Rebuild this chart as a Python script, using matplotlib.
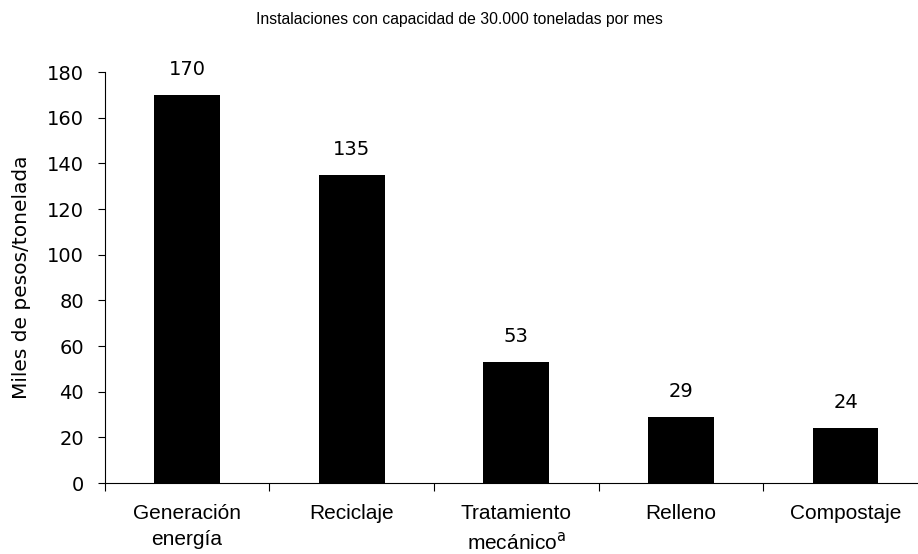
import matplotlib
matplotlib.use("Agg")
import matplotlib.pyplot as plt
import numpy as np

categories = ["Generación\nenergía", "Reciclaje", "Tratamiento\nmecánico$^{\\mathrm{a}}$", "Relleno", "Compostaje"]
values = [170, 135, 53, 29, 24]
yticks = [0, 20, 40, 60, 80, 100, 120, 140, 160, 180]

plt.rcParams["font.family"] = ["Liberation Sans", "DejaVu Sans"]

fig = plt.figure(figsize=(9.18, 5.54), dpi=100)
ax = fig.add_axes([0.114, 0.128, 0.886, 0.742])

x = np.arange(len(categories))
ax.bar(x, values, width=0.40, color="black")

# value labels above the bars
for xi, v in zip(x, values):
    ax.text(xi, v + 7, str(v), ha="center", va="bottom", fontsize=14,
            family="DejaVu Sans")

ax.set_xlim(-0.5, 4.44)
ax.set_ylim(0, 180)
ax.set_yticks(yticks)
ax.tick_params(axis="y", labelsize=14, direction="out", length=5, pad=10)
for lbl in ax.get_yticklabels():
    lbl.set_family("DejaVu Sans")

# category boundary ticks, labels centred between them
ax.set_xticks(np.arange(len(categories)) - 0.5)
ax.set_xticklabels([])
ax.set_xticks(x, minor=True)
ax.set_xticklabels(categories, minor=True, fontsize=15, linespacing=1.45)
ax.tick_params(axis="x", which="minor", length=0, pad=15)
ax.tick_params(axis="x", which="major", length=6, direction="out")

ax.spines["top"].set_visible(False)
ax.spines["right"].set_visible(False)

ax.set_ylabel("Miles de pesos/tonelada", fontsize=14.5, family="DejaVu Sans")
ax.yaxis.set_label_coords(-0.09, 0.5)
fig.text(0.5, 0.964, "Instalaciones con capacidad de 30.000 toneladas por mes",
         ha="center", va="center", fontsize=11.3)

fig.savefig("out.png", dpi=100)
